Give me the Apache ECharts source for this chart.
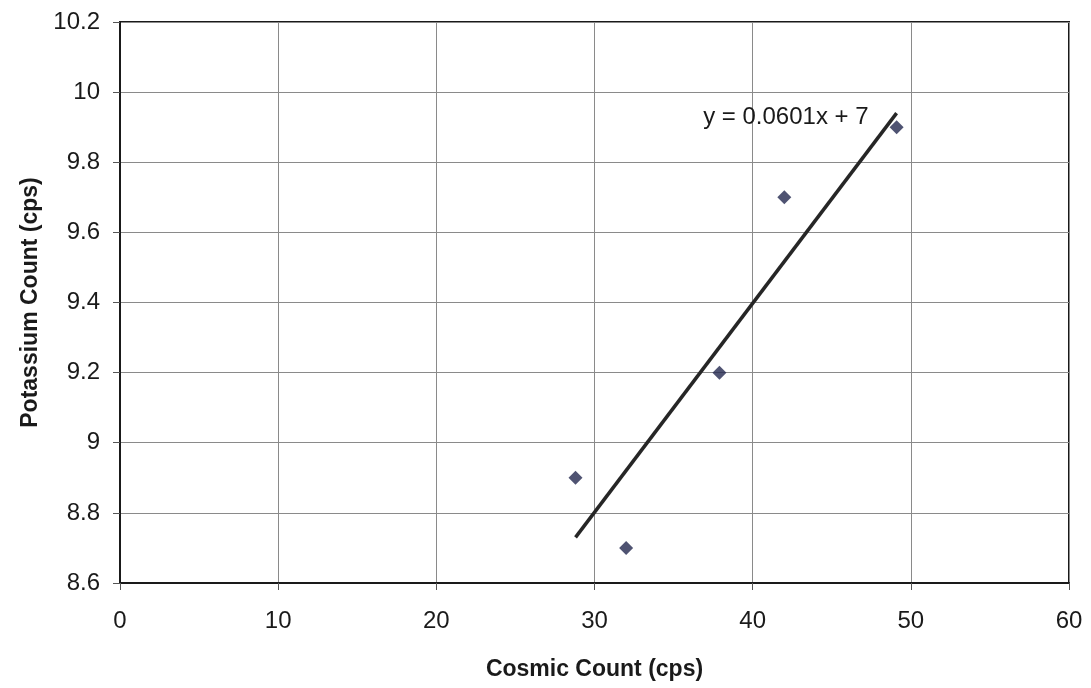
<!DOCTYPE html>
<html>
<head>
<meta charset="utf-8">
<script src="https://cdn.jsdelivr.net/npm/echarts@6/dist/echarts.min.js"></script>
<style>
  html, body { margin: 0; padding: 0; background: #fff; }
  #chart { width: 1091px; height: 688px; }
</style>
</head>
<body>
<div id="chart"></div>
<script>
// measured points
const cosmic = [28.8, 32.0, 37.9, 42.0, 49.1]
const potassium = [8.9, 8.7, 9.2, 9.7, 9.9]

// linear trendline end points
const trendX = [28.8, 49.1]
const trendY = [8.73, 9.94]
const trendLabel = 'y = 0.0601x + 7'

const xTicks = { min: 0, max: 60, interval: 10 }
const yTicks = { min: 8.6, max: 10.2, interval: 0.2 }

const font = '"Liberation Sans", Arial, sans-serif'
const chart = echarts.init(document.getElementById('chart'))

const option = {
  animation: false,
  grid: {
    left: 120,
    right: 22,
    top: 22,
    bottom: 105,
    show: true,
    borderColor: '#1a1a1a',
    borderWidth: 2
  },
  xAxis: {
    type: 'value',
    ...xTicks,
    name: 'Cosmic Count (cps)',
    nameLocation: 'middle',
    nameGap: 75,
    nameTextStyle: { fontFamily: font, fontSize: 23, fontWeight: 'bold', color: '#1a1a1a' },
    axisLine: { show: true, onZero: false, lineStyle: { color: '#1a1a1a', width: 2 } },
    axisTick: { show: true, length: 7, lineStyle: { color: '#555' } },
    axisLabel: { fontFamily: font, fontSize: 24, color: '#1a1a1a', margin: 26 },
    splitLine: { lineStyle: { color: '#8a8a8a', width: 1 } }
  },
  yAxis: {
    type: 'value',
    ...yTicks,
    name: 'Potassium Count (cps)',
    nameLocation: 'middle',
    nameGap: 78,
    nameTextStyle: { fontFamily: font, fontSize: 23, fontWeight: 'bold', color: '#1a1a1a' },
    axisLine: { show: true, onZero: false, lineStyle: { color: '#1a1a1a', width: 2 } },
    axisTick: { show: true, length: 7, lineStyle: { color: '#555' } },
    axisLabel: { fontFamily: font, fontSize: 24, color: '#1a1a1a', margin: 20 },
    splitLine: { lineStyle: { color: '#8a8a8a', width: 1 } }
  },
  series: [
    {
      type: 'line',
      data: trendX.map((x, i) => [x, trendY[i]]),
      symbol: 'none',
      lineStyle: { color: '#262626', width: 3.5 },
      endLabel: {
        show: true,
        formatter: trendLabel,
        fontFamily: font,
        fontSize: 24,
        color: '#1a1a1a',
        align: 'right',
        offset: [-36, 4]
      },
      z: 2
    },
    {
      type: 'scatter',
      data: cosmic.map((x, i) => [x, potassium[i]]),
      symbol: 'diamond',
      symbolSize: 14,
      itemStyle: { color: '#23284f' },
      z: 3
    }
  ]
}

chart.setOption(option)
</script>
</body>
</html>
